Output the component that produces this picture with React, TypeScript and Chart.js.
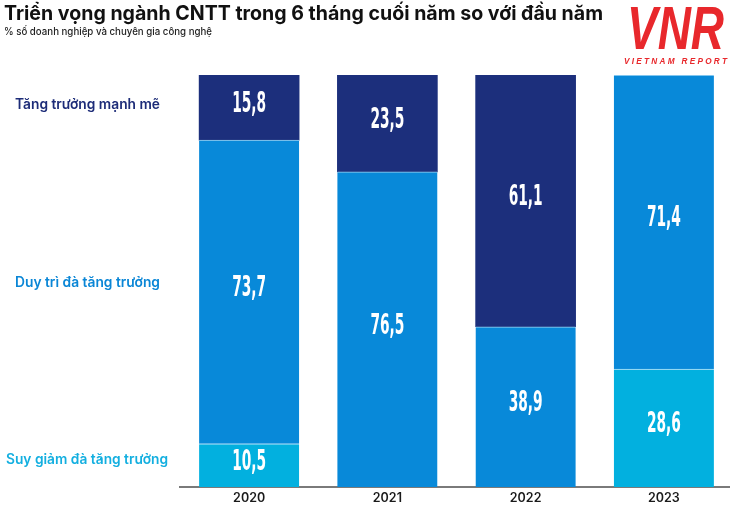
import React, { useEffect, useRef } from "react";
import { Chart, registerables } from "chart.js";

Chart.register(...registerables);

const categories = ["2020", "2021", "2022", "2023"];
const seriesNames = ["Tăng trưởng mạnh mẽ", "Duy trì đà tăng trưởng", "Suy giảm đà tăng trưởng"];
const strongGrowth: (number | null)[] = [15.8, 23.5, 61.1, null];
const maintainGrowth: (number | null)[] = [73.7, 76.5, 38.9, 71.4];
const declineGrowth: (number | null)[] = [10.5, null, null, 28.6];

const titleText = "Triển vọng ngành CNTT trong 6 tháng cuối năm so với đầu năm";
const subtitleText = "% số doanh nghiệp và chuyên gia công nghệ";

const NAVY = "#1c2f7c";
const MID = "#0889d9";
const LIGHT = "#02b0df";

function drawFit(
  ctx: CanvasRenderingContext2D,
  text: string,
  x: number,
  y: number,
  font: string,
  color: string,
  targetWidth: number
) {
  ctx.save();
  ctx.font = font;
  ctx.fillStyle = color;
  ctx.textAlign = "left";
  ctx.textBaseline = "alphabetic";
  const w = ctx.measureText(text).width;
  const sx = targetWidth / w;
  ctx.translate(x, y);
  ctx.scale(sx, 1);
  ctx.fillText(text, 0, 0);
  ctx.restore();
}

const decorPlugin = {
  id: "decor",
  afterDatasetsDraw(chart: any) {
    const ctx: CanvasRenderingContext2D = chart.ctx;
    const numFont = "bold 28px 'Liberation Sans Narrow', 'DejaVu Sans Condensed', sans-serif";
    ctx.save();
    ctx.font = numFont;
    const ref = ctx.measureText("15,8").width;
    const sx = 34 / ref;
    ctx.fillStyle = "#ffffff";
    ctx.textAlign = "center";
    ctx.textBaseline = "middle";
    chart.data.datasets.forEach((ds: any, i: number) => {
      const meta = chart.getDatasetMeta(i);
      meta.data.forEach((el: any, j: number) => {
        const v = ds.data[j];
        if (v == null) return;
        const p = el.getProps(["x", "y", "base"], true);
        const cy = (p.y + p.base) / 2 - 3;
        const txt = v.toFixed(1).replace(".", ",");
        ctx.save();
        ctx.translate(p.x, cy);
        ctx.scale(sx, 1);
        ctx.fillText(txt, 0, 0);
        ctx.restore();
      });
    });
    ctx.restore();

    // series labels on the left, aligned with the 2020 segments
    const labelColors = ["#13afe0", "#0a86d6", "#1d2c78"];
    const labelWidths = [162, 145, 145];
    const labelX = [6, 15, 15];
    const labelDy = [-6, -9.5, -3.5];
    chart.data.datasets.forEach((ds: any, i: number) => {
      const meta = chart.getDatasetMeta(i);
      const el = meta.data[0];
      if (!el || ds.data[0] == null) return;
      const p = el.getProps(["y", "base"], true);
      const cy = (p.y + p.base) / 2 + labelDy[i];
      drawFit(
        ctx,
        ds.label,
        labelX[i],
        cy + 5,
        "600 14px Inter, 'Open Sans', sans-serif",
        labelColors[i],
        labelWidths[i]
      );
    });

    // title and subtitle
    drawFit(ctx, titleText, 4, 19.5, "700 20px Inter, 'Open Sans', sans-serif", "#111111", 599);
    drawFit(ctx, subtitleText, 4, 35, "500 10px Inter, 'Open Sans', sans-serif", "#222222", 208);

    // logo
    drawFit(ctx, "VNR", 627, 49, "italic bold 62px 'Liberation Sans', 'DejaVu Sans', sans-serif", "#e8282c", 97);
    drawFit(ctx, "V I E T N A M   R E P O R T", 624, 64, "italic bold 9px 'Liberation Sans', 'DejaVu Sans', sans-serif", "#e8282c", 103);
  },
};

export default function App() {
  const ref = useRef<HTMLCanvasElement | null>(null);
  useEffect(() => {
    document.body.style.margin = "0";
    const canvas = ref.current;
    if (!canvas) return;
    const chart = new Chart(canvas, {
      type: "bar",
      data: {
        labels: categories,
        datasets: [
          {
            label: seriesNames[2],
            data: declineGrowth,
            backgroundColor: LIGHT,
            borderColor: "rgba(190,230,250,0.9)",
            borderWidth: { top: 1, left: 0, right: 0, bottom: 0 },
            borderSkipped: false,
            barThickness: 100,
          },
          {
            label: seriesNames[1],
            data: maintainGrowth,
            backgroundColor: MID,
            borderColor: "rgba(160,215,245,0.9)",
            borderWidth: { top: 1, left: 0, right: 0, bottom: 0 },
            borderSkipped: false,
            barThickness: 100,
          },
          {
            label: seriesNames[0],
            data: strongGrowth,
            backgroundColor: NAVY,
            borderWidth: 0,
            barThickness: 100,
          },
        ],
      } as any,
      options: {
        animation: false,
        responsive: true,
        maintainAspectRatio: false,
        layout: { padding: { left: 180, right: 12, top: 75, bottom: 0 } },
        plugins: {
          legend: { display: false },
          tooltip: { enabled: false },
          title: { display: false },
        },
        scales: {
          x: {
            stacked: true,
            grid: { display: false, drawTicks: false },
            border: { display: true, color: "#7a7a7a", width: 2 },
            ticks: {
              color: "#1a1a1a",
              padding: 4,
              font: { family: "Inter, Roboto, sans-serif", size: 12.5, weight: 600 },
            },
            afterFit: (scale: any) => {
              scale.height = 29;
            },
          },
          y: {
            stacked: true,
            display: false,
            min: 0,
            max: 100,
          },
        },
      } as any,
      plugins: [decorPlugin],
    });
    return () => chart.destroy();
  }, []);

  return (
    <div
      style={{
        position: "fixed",
        left: 0,
        top: 0,
        width: 730,
        height: 516,
        overflow: "hidden",
        background: "#ffffff",
      }}
    >
      <div style={{ position: "relative", width: 745, height: 516 }}>
        <canvas ref={ref} />
      </div>
    </div>
  );
}
